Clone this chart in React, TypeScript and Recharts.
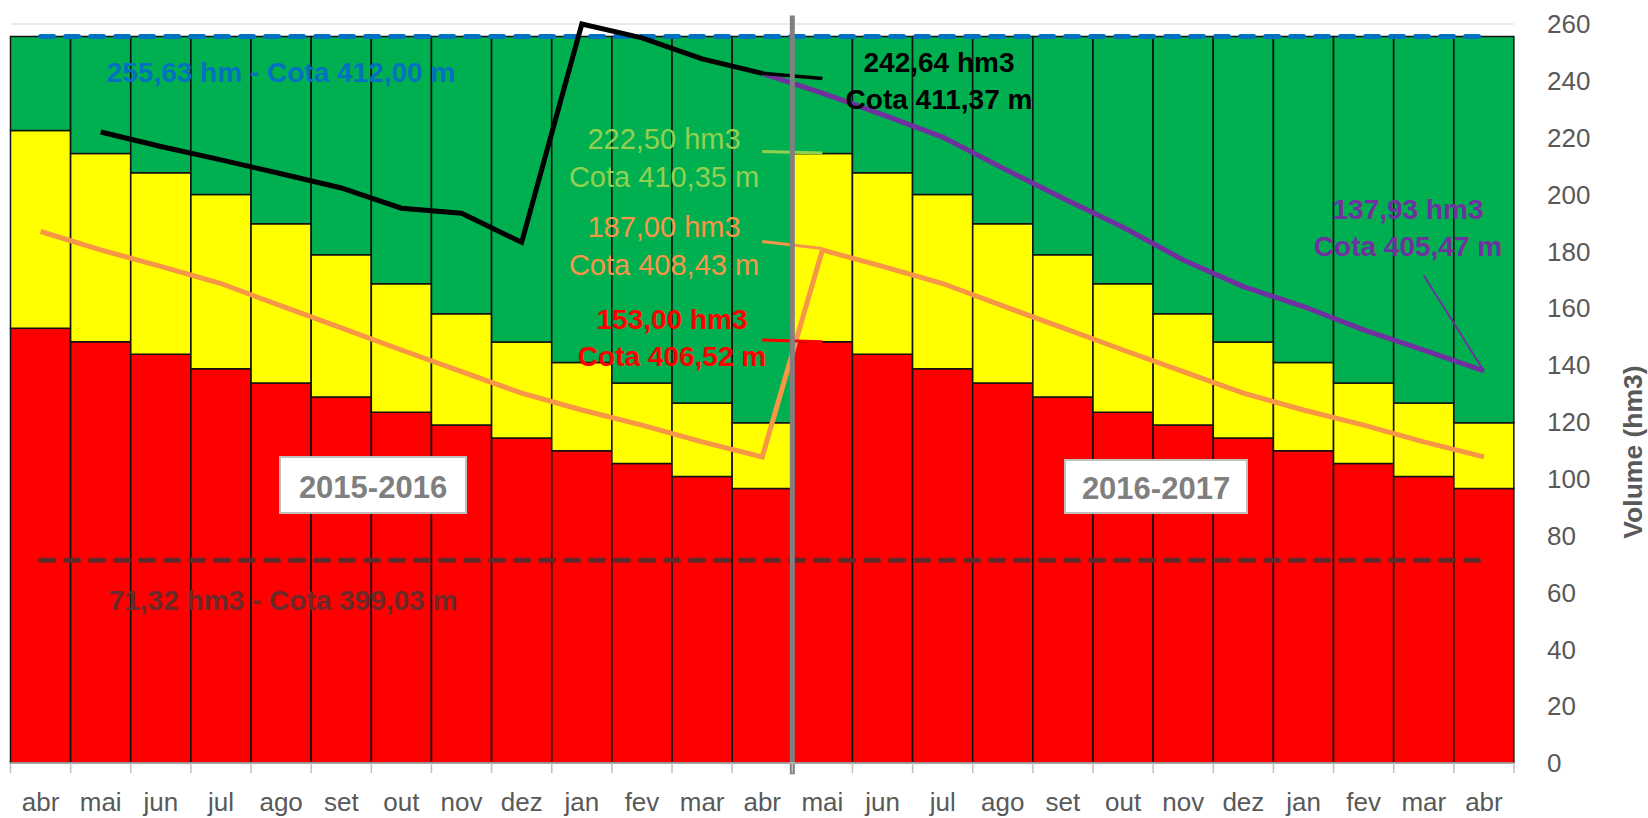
import {
  ComposedChart,
  Bar,
  Line,
  XAxis,
  YAxis,
  CartesianGrid,
  ReferenceLine,
} from "recharts";

// month labels, abr/2015 .. abr/2017
const months = [
  "abr", "mai", "jun", "jul", "ago", "set", "out", "nov", "dez", "jan", "fev", "mar", "abr",
  "mai", "jun", "jul", "ago", "set", "out", "nov", "dez", "jan", "fev", "mar", "abr",
];

// upper limit of the red band (hm3)
const redLevel = [
  153.0, 148.2, 143.8, 138.7, 133.7, 128.8, 123.4, 118.9, 114.3, 109.9, 105.4, 100.8, 96.6,
  148.2, 143.8, 138.7, 133.7, 128.8, 123.4, 118.9, 114.3, 109.9, 105.4, 100.8, 96.6,
];

// upper limit of the yellow band (hm3)
const yellowLevel = [
  222.5, 214.4, 207.7, 200.0, 189.7, 178.8, 168.6, 158.1, 148.1, 140.9, 133.7, 126.7, 119.7,
  214.4, 207.7, 200.0, 189.7, 178.8, 168.6, 158.1, 148.1, 140.9, 133.7, 126.7, 119.7,
];

const capacity = 255.63;
const deadVolume = 71.32;

// volume observado 2015-2016
const observed = [
  null, 222.0, 216.9, 212.2, 207.3, 202.3, 195.2, 193.4, 183.2, 260.0, 255.1, 247.7, 242.64,
  null, null, null, null, null, null, null, null, null, null, null, null,
];

// projecao 2016-2017
const projected = [
  null, null, null, null, null, null, null, null, null, null, null, null, 242.64,
  235.7, 228.1, 220.2, 209.3, 198.7, 188.5, 177.0, 167.6, 160.6, 152.4, 145.3, 137.93,
];

// curva de referencia (laranja)
const guideCurve = [
  187.0, 180.5, 174.7, 168.7, 160.8, 153.1, 145.3, 137.7, 130.1, 124.2, 118.9, 113.0, 107.7,
  180.5, 174.7, 168.7, 160.8, 153.1, 145.3, 137.7, 130.1, 124.2, 118.9, 113.0, 107.7,
];

const yTicks = [0, 20, 40, 60, 80, 100, 120, 140, 160, 180, 200, 220, 240, 260];

const categories = months.map((m, i) => `${m}-${i}`);

const data = categories.map((key, i) => ({
  key,
  red: redLevel[i],
  yellow: yellowLevel[i] - redLevel[i],
  green: capacity - yellowLevel[i],
  observed: observed[i],
  projected: projected[i],
  guide: guideCurve[i],
}));

const W = 1648;
const H = 818;
const LEFT = 10.5;
const AXIS_W = 134;
const BAND = (W - AXIS_W - LEFT) / months.length;
const FONT = "'Liberation Sans', Arial, sans-serif";

function MonthTick(props: any) {
  const { x, y, index } = props;
  return (
    <g>
      <line x1={x - BAND / 2} x2={x - BAND / 2} y1={y} y2={y + 10} stroke="#BFBFBF" strokeWidth={1.5} />
      {index === months.length - 1 && (
        <line x1={x + BAND / 2} x2={x + BAND / 2} y1={y} y2={y + 10} stroke="#BFBFBF" strokeWidth={1.5} />
      )}
      <text x={x} y={y + 48} textAnchor="middle" fontSize={26} fill="#595959" fontFamily={FONT}>
        {months[index]}
      </text>
    </g>
  );
}

function Note({ x, y, lines, color, bold, size = 28 }: any) {
  return (
    <>
      {lines.map((t: string, i: number) => (
        <text
          key={t}
          x={x}
          y={y + i * 37.5}
          textAnchor="middle"
          dominantBaseline="central"
          fontSize={size}
          fontWeight={bold ? "bold" : "normal"}
          fill={color}
        >
          {t}
        </text>
      ))}
    </>
  );
}

export default function App() {
  return (
    <div style={{ position: "absolute", left: 0, top: 0, width: W, height: H, background: "#fff", fontFamily: FONT }}>
      <ComposedChart
        width={W}
        height={H}
        data={data}
        margin={{ top: 24, right: 0, left: LEFT, bottom: 0 }}
        barCategoryGap={0}
        barGap={0}
      >
        <CartesianGrid vertical={false} stroke="#E3E3E3" strokeWidth={1.5} />
        <XAxis
          dataKey="key"
          interval={0}
          height={55}
          tickSize={0}
          tickMargin={0}
          tickLine={false}
          axisLine={{ stroke: "#BFBFBF", strokeWidth: 1.5 }}
          tick={(p: any) => <MonthTick {...p} />}
        />
        <YAxis
          orientation="right"
          width={AXIS_W}
          domain={[0, 260]}
          ticks={yTicks}
          interval={0}
          tickSize={0}
          tickMargin={33}
          axisLine={false}
          tickLine={false}
          tick={{ fill: "#595959", fontSize: 26, fontFamily: FONT }}
        />
        <Bar dataKey="red" stackId="v" fill="#FF0000" stroke="#111" strokeWidth={1.5} isAnimationActive={false} />
        <Bar dataKey="yellow" stackId="v" fill="#FFFF00" stroke="#111" strokeWidth={1.5} isAnimationActive={false} />
        <Bar dataKey="green" stackId="v" fill="#00B050" stroke="#111" strokeWidth={1.5} isAnimationActive={false} />

        <ReferenceLine
          segment={[{ x: categories[0], y: capacity }, { x: categories[24], y: capacity }]}
          stroke="#0070C0"
          strokeWidth={5}
          strokeDasharray="13 12"
          strokeLinecap="round"
        />
        <ReferenceLine
          segment={[{ x: categories[0], y: deadVolume }, { x: categories[24], y: deadVolume }]}
          stroke="#5E2A2A"
          strokeWidth={5}
          strokeDasharray="13 12"
          strokeLinecap="round"
        />

        <Line dataKey="guide" stroke="#F79646" strokeWidth={5} dot={false} activeDot={false} isAnimationActive={false} />
        <Line dataKey="projected" stroke="#7030A0" strokeWidth={5} dot={false} activeDot={false} isAnimationActive={false} />
        <Line dataKey="observed" stroke="#000" strokeWidth={5} dot={false} activeDot={false} isAnimationActive={false} />

        {/* leader lines of the labels */}
        <ReferenceLine segment={[{ x: categories[12], y: 242.64 }, { x: categories[13], y: 240.8 }]} stroke="#000" strokeWidth={3.5} />
        <ReferenceLine segment={[{ x: categories[12], y: 215.1 }, { x: categories[13], y: 214.6 }]} stroke="#92D050" strokeWidth={3} />
        <ReferenceLine segment={[{ x: categories[12], y: 183.5 }, { x: categories[13], y: 181.0 }]} stroke="#F79646" strokeWidth={3} />
        <ReferenceLine segment={[{ x: categories[12], y: 148.8 }, { x: categories[13], y: 148.2 }]} stroke="#FF0000" strokeWidth={3} />
        <ReferenceLine segment={[{ x: categories[23], y: 171.5 }, { x: categories[24], y: 137.93 }]} stroke="#7030A0" strokeWidth={2} />

        {/* separation between the two hydrological years */}
        <ReferenceLine
          segment={[{ x: categories[13], y: 263 }, { x: categories[13], y: -4 }]}
          position="start"
          ifOverflow="visible"
          stroke="#808080"
          strokeWidth={5}
        />
      </ComposedChart>

      <svg width={W} height={H} style={{ position: "absolute", left: 0, top: 0, pointerEvents: "none" }} fontFamily={FONT}>
        <Note x={281} y={72} lines={["255,63 hm - Cota 412,00 m"]} color="#0070C0" bold />
        <Note x={283} y={600} lines={["71,32 hm3 - Cota 399,03 m"]} color="#6A2A2A" bold />
        <Note x={664} y={139} lines={["222,50 hm3", "Cota 410,35 m"]} color="#92D050" size={29} />
        <Note x={664} y={227} lines={["187,00 hm3", "Cota 408,43 m"]} color="#F79646" size={29} />
        <Note x={672} y={319} lines={["153,00 hm3", "Cota 406,52 m"]} color="#FF0000" bold />
        <Note x={939} y={62} lines={["242,64 hm3", "Cota 411,37 m"]} color="#000" bold />
        <Note x={1408} y={209} lines={["137,93 hm3", "Cota 405,47 m"]} color="#7030A0" bold />

        <rect x={280} y={457} width={186} height={56} fill="#fff" stroke="#BFBFBF" strokeWidth={2} />
        <text x={373} y={487} textAnchor="middle" dominantBaseline="central" fontSize={31} fontWeight="bold" fill="#7F7F7F">
          2015-2016
        </text>
        <rect x={1065} y={460} width={182} height={53} fill="#fff" stroke="#BFBFBF" strokeWidth={2} />
        <text x={1156} y={488} textAnchor="middle" dominantBaseline="central" fontSize={31} fontWeight="bold" fill="#7F7F7F">
          2016-2017
        </text>

        <text
          x={1633}
          y={452}
          transform="rotate(-90, 1633, 452)"
          textAnchor="middle"
          dominantBaseline="central"
          fontSize={26.5}
          fontWeight="bold"
          fill="#595959"
        >
          Volume (hm3)
        </text>
      </svg>
    </div>
  );
}
